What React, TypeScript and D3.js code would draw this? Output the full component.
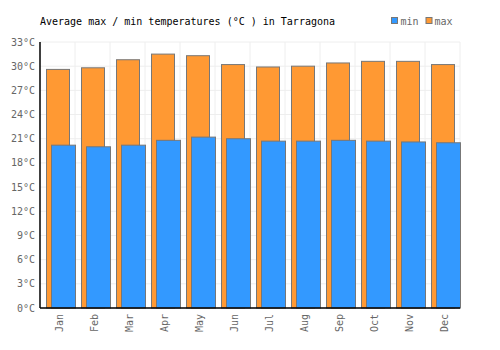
import React from "react";
import * as d3 from "d3";

const months = ["Jan", "Feb", "Mar", "Apr", "May", "Jun", "Jul", "Aug", "Sep", "Oct", "Nov", "Dec"];
const maxTemps = [29.6, 29.8, 30.8, 31.5, 31.3, 30.2, 29.9, 30.0, 30.4, 30.6, 30.6, 30.2];
const minTemps = [20.2, 20.0, 20.2, 20.8, 21.2, 21.0, 20.7, 20.7, 20.8, 20.7, 20.6, 20.5];
const yTicks = [0, 3, 6, 9, 12, 15, 18, 21, 24, 27, 30, 33];

const FONT = "'DejaVu Sans Mono', monospace";

export default function App() {
  const margin = { top: 42, right: 40, bottom: 42, left: 40 };
  const width = 500;
  const height = 350;

  const x = d3
    .scaleBand<string>()
    .domain(months)
    .range([margin.left, width - margin.right])
    .padding(0);
  const y = d3
    .scaleLinear()
    .domain([0, 33])
    .range([height - margin.bottom, margin.top]);

  const bw = x.bandwidth();
  const y0 = y(0);

  return (
    <svg
      width={width}
      height={height}
      style={{ position: "absolute", left: 0, top: 0, background: "#fff" }}
    >
      {/* grid */}
      {yTicks.map((t) => (
        <line
          key={"h" + t}
          x1={margin.left}
          x2={width - margin.right}
          y1={y(t)}
          y2={y(t)}
          stroke="#eee"
          strokeWidth={1}
        />
      ))}
      {months.map((m) => (
        <line
          key={"v" + m}
          x1={(x(m) as number) + bw}
          x2={(x(m) as number) + bw}
          y1={margin.top}
          y2={y0}
          stroke="#eee"
          strokeWidth={1}
        />
      ))}

      {/* bars: max behind, min in front */}
      {months.map((m, i) => (
        <rect
          key={"max" + m}
          x={(x(m) as number) + 6.5}
          y={y(maxTemps[i])}
          width={23}
          height={y0 - y(maxTemps[i])}
          fill="#ff9933"
          stroke="#777"
          strokeWidth={1}
        />
      ))}
      {months.map((m, i) => (
        <rect
          key={"min" + m}
          x={(x(m) as number) + 11.5}
          y={y(minTemps[i])}
          width={24}
          height={y0 - y(minTemps[i])}
          fill="#3399ff"
          stroke="#777"
          strokeWidth={1}
        />
      ))}

      {/* axes */}
      <line x1={margin.left} x2={margin.left} y1={margin.top} y2={y0} stroke="#000" strokeWidth={1.5} />
      <line x1={margin.left} x2={width - margin.right} y1={y0} y2={y0} stroke="#000" strokeWidth={1.5} />

      {yTicks.map((t) => (
        <text
          key={"yl" + t}
          x={35}
          y={y(t)}
          dy="0.35em"
          textAnchor="end"
          fontFamily={FONT}
          fontSize={10}
          fill="#666"
        >
          {t}°C
        </text>
      ))}
      {months.map((m) => (
        <text
          key={"xl" + m}
          transform={`translate(${(x(m) as number) + bw / 2 + 1.5},${y0 + 6}) rotate(-90)`}
          dy="0.35em"
          textAnchor="end"
          fontFamily={FONT}
          fontSize={10}
          fill="#666"
        >
          {m}
        </text>
      ))}

      {/* title */}
      <text x={40} y={24.5} fontFamily={FONT} fontSize={10} fill="#000">
        Average max / min temperatures (°C ) in Tarragona
      </text>

      {/* legend */}
      <rect x={391.5} y={17.5} width={6} height={6} fill="#3399ff" stroke="#777" strokeWidth={1} />
      <text x={400.5} y={24.5} fontFamily={FONT} fontSize={10} fill="#666">
        min
      </text>
      <rect x={426} y={17.5} width={6} height={6} fill="#ff9933" stroke="#777" strokeWidth={1} />
      <text x={434.5} y={24.5} fontFamily={FONT} fontSize={10} fill="#666">
        max
      </text>
    </svg>
  );
}
